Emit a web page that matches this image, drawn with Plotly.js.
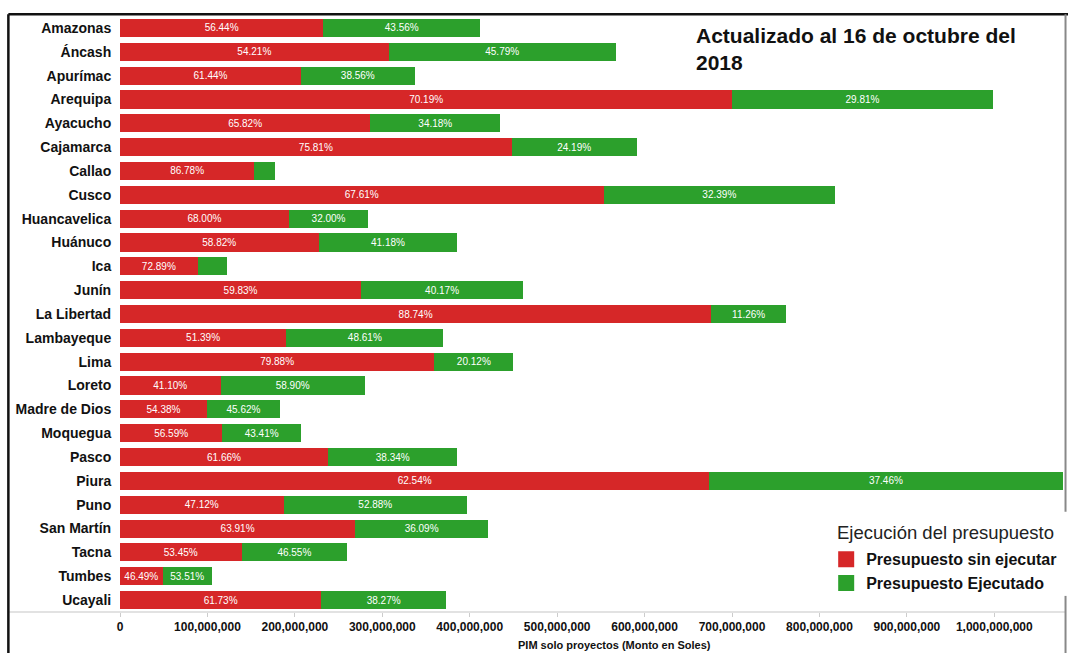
<!DOCTYPE html>
<html>
<head>
<meta charset="utf-8">
<script src="https://cdn.plot.ly/plotly-3.0.1.min.js"></script>
<style>
  html, body { margin: 0; padding: 0; background: white; }
  #chart { width: 1068px; height: 653px; }
</style>
</head>
<body>
<div id="chart"></div>
<script>
// Regions (top to bottom)
const regions = ['Amazonas', 'Áncash', 'Apurímac', 'Arequipa', 'Ayacucho', 'Cajamarca', 'Callao', 'Cusco',
    'Huancavelica', 'Huánuco', 'Ica', 'Junín', 'La Libertad', 'Lambayeque', 'Lima', 'Loreto',
    'Madre de Dios', 'Moquegua', 'Pasco', 'Piura', 'Puno', 'San Martín', 'Tacna', 'Tumbes', 'Ucayali'];

// PIM total per region (millions of soles)
const pimTotal = [412, 567, 337, 998, 435, 591, 177, 818,
    284, 386, 122, 461, 762, 370, 450, 280,
    183, 207, 386, 1078, 397, 421, 260, 105, 373];

// Share not executed / executed (%)
const pctSinEjecutar = [56.44, 54.21, 61.44, 70.19, 65.82, 75.81, 86.78, 67.61,
    68.00, 58.82, 72.89, 59.83, 88.74, 51.39, 79.88, 41.10,
    54.38, 56.59, 61.66, 62.54, 47.12, 63.91, 53.45, 46.49, 61.73];
const pctEjecutado = [43.56, 45.79, 38.56, 29.81, 34.18, 24.19, 13.22, 32.39,
    32.00, 41.18, 27.11, 40.17, 11.26, 48.61, 20.12, 58.90,
    45.62, 43.41, 38.34, 37.46, 52.88, 36.09, 46.55, 53.51, 38.27];

// segments too small for a label in the original
const hideEjecutadoLabel = ['Callao', 'Ica'];

const seriesNames = ['Presupuesto sin ejecutar', 'Presupuesto Ejecutado'];
const colors = { sin: '#d62728', eje: '#2ca02c' };
const FONT = 'Liberation Sans, Arial, sans-serif';

const sinValues = pimTotal.map((t, i) => t * 1e6 * pctSinEjecutar[i] / 100);
const ejeValues = pimTotal.map((t, i) => t * 1e6 * pctEjecutado[i] / 100);

const fmt = p => p.toFixed(2) + '%';

const barCommon = {
    type: 'bar',
    orientation: 'h',
    y: regions,
    textposition: 'inside',
    insidetextanchor: 'middle',
    constraintext: 'none',
    textfont: { color: 'white', size: 10, family: FONT },
    hoverinfo: 'none',
    showlegend: false
};

const traces = [
    Object.assign({}, barCommon, {
        name: seriesNames[0],
        x: sinValues,
        text: pctSinEjecutar.map(fmt),
        marker: { color: colors.sin }
    }),
    Object.assign({}, barCommon, {
        name: seriesNames[1],
        x: ejeValues,
        text: pctEjecutado.map((p, i) => hideEjecutadoLabel.includes(regions[i]) ? '' : fmt(p)),
        marker: { color: colors.eje }
    }),
    // legend-only entries (bigger square swatches)
    { type: 'scatter', mode: 'markers', name: seriesNames[0], x: [null], y: [null],
      marker: { symbol: 'square', size: 16, color: colors.sin }, hoverinfo: 'none' },
    { type: 'scatter', mode: 'markers', name: seriesNames[1], x: [null], y: [null],
      marker: { symbol: 'square', size: 16, color: colors.eje }, hoverinfo: 'none' }
];

const layout = {
    width: 1068,
    height: 653,
    barmode: 'stack',
    bargap: 0.24,
    margin: { l: 120, r: 2, t: 16, b: 41 },
    paper_bgcolor: 'white',
    plot_bgcolor: 'white',
    font: { family: FONT, color: '#111' },
    showlegend: true,
    legend: {
        x: 0.7465,
        xanchor: 'left',
        y: 0.117,
        yanchor: 'top',
        bgcolor: 'rgba(0,0,0,0)',
        traceorder: 'normal',
        font: { size: 16, family: FONT, color: '#111', weight: 'bold' },
        itemsizing: 'trace'
    },
    xaxis: {
        range: [0, 1.082e9],
        tickvals: [0, 1e8, 2e8, 3e8, 4e8, 5e8, 6e8, 7e8, 8e8, 9e8, 1e9],
        tickformat: ',d',
        showgrid: false,
        zeroline: false,
        showline: false,
        ticks: 'outside',
        ticklen: 4,
        tickcolor: '#cccccc',
        tickfont: { size: 12, family: FONT, color: '#111', weight: 'bold' }
    },
    yaxis: {
        type: 'category',
        range: [24.5, -0.5],
        showgrid: false,
        zeroline: false,
        showline: false,
        ticks: 'outside',
        ticklen: 5,
        tickcolor: 'rgba(0,0,0,0)',
        tickfont: { size: 14, family: FONT, color: '#111', weight: 'bold' }
    },
    annotations: [
        {
            xref: 'paper', yref: 'paper',
            x: 0.607, y: 0.99,
            xanchor: 'left', yanchor: 'top',
            align: 'left',
            showarrow: false,
            text: 'Actualizado al 16 de octubre del<br>2018',
            font: { size: 21, family: FONT, color: '#111', weight: 'bold' }
        },
        {
            xref: 'paper', yref: 'paper',
            x: 0.523, y: -0.0554,
            xanchor: 'center', yanchor: 'middle',
            showarrow: false,
            text: 'PIM solo proyectos (Monto en Soles)',
            font: { size: 11, family: FONT, color: '#111', weight: 'bold' }
        },
        {
            // legend title
            xref: 'paper', yref: 'paper',
            x: 0.7555, y: 0.1326,
            xanchor: 'left', yanchor: 'middle',
            showarrow: false,
            text: 'Ejecución del presupuesto',
            font: { size: 18.5, family: FONT, color: '#222' }
        }
    ],
    shapes: [
        // bottom separator line
        { type: 'line', xref: 'paper', yref: 'paper', x0: -0.117, x1: 1, y0: 0, y1: 0,
          line: { color: '#d9d9d9', width: 1.5 } },
        // outer frame
        { type: 'line', xref: 'paper', yref: 'paper', x0: -0.118, x1: 1.003, y0: 1.003, y1: 1.003,
          line: { color: '#111', width: 2.5 } },
        { type: 'line', xref: 'paper', yref: 'paper', x0: -0.118, x1: -0.118, y0: 1.003, y1: -0.07,
          line: { color: '#111', width: 2.5 } },
        { type: 'line', xref: 'paper', yref: 'paper', x0: 0.9995, x1: 0.9995, y0: 1.003, y1: 0.168,
          line: { color: '#888', width: 2 } },
        { type: 'line', xref: 'paper', yref: 'paper', x0: 0.9995, x1: 0.9995, y0: 0.027, y1: -0.07,
          line: { color: '#888', width: 2 } }
    ]
};

Plotly.newPlot('chart', traces, layout, { displayModeBar: false, staticPlot: true });
</script>
</body>
</html>
